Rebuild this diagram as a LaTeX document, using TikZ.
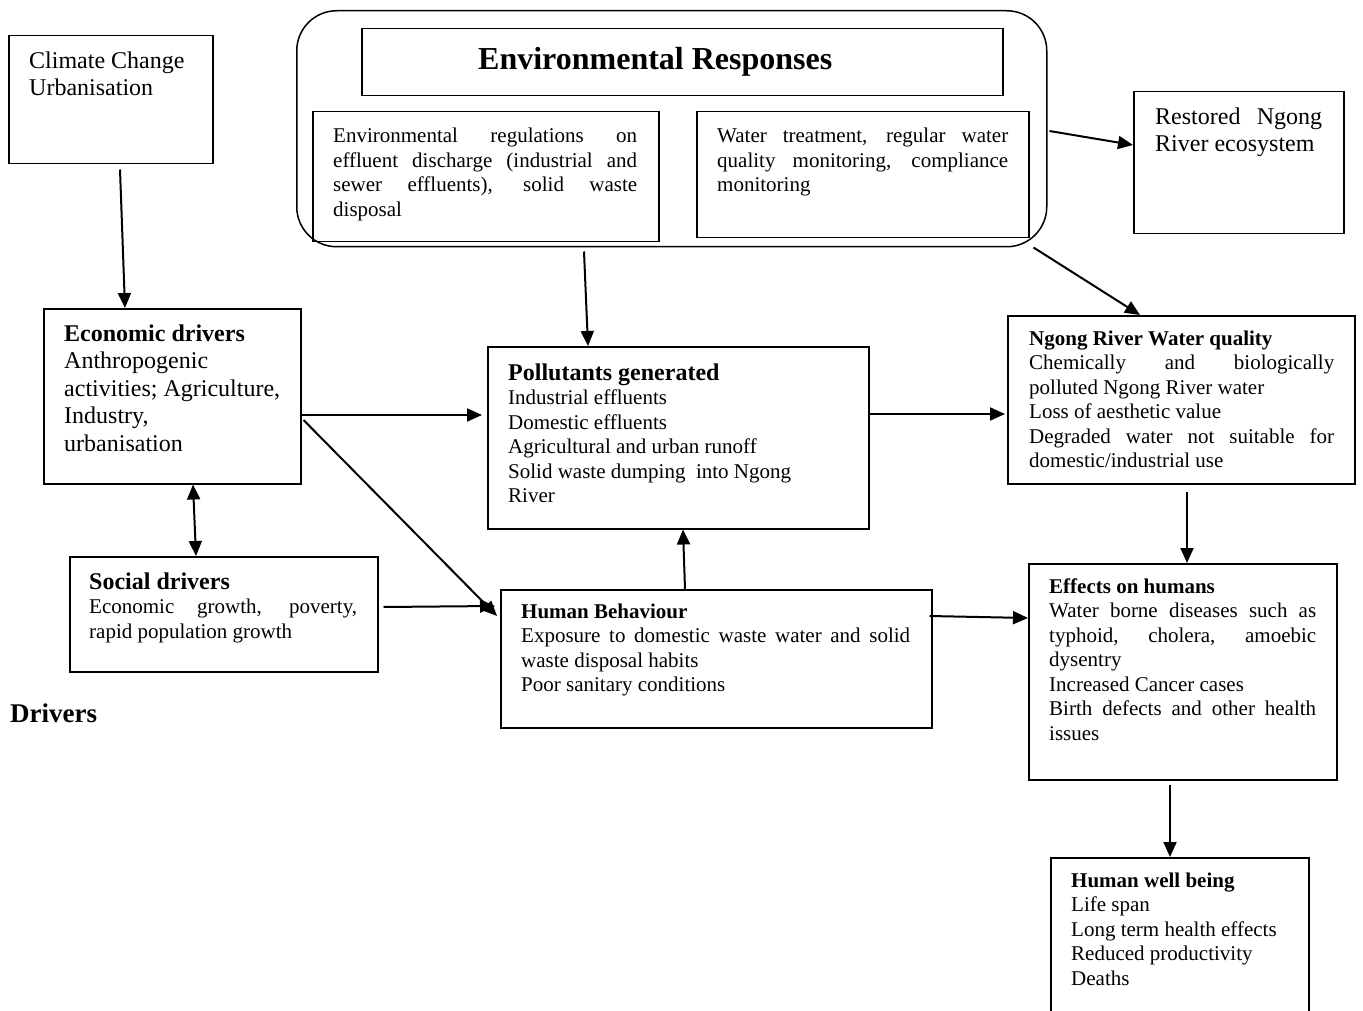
\documentclass[tikz,border=0pt]{standalone}
\usepackage{fontspec}
\setmainfont{Liberation Serif}
\usetikzlibrary{arrows.meta,calc}
\hyphenpenalty=10000

\tikzset{
  box/.style={draw, line width=1.5pt, inner sep=0pt, anchor=north west},
  txt/.style={inner sep=0pt, anchor=base west, align=justify, font=\fontsize{21}{24.5}\selectfont},
  bigtxt/.style={inner sep=0pt, anchor=base west, align=justify, font=\fontsize{24}{27}\selectfont},
  arr/.style={line width=2pt, ->},
}
\newcommand{\hd}[1]{{\fontsize{24}{24.5}\selectfont\bfseries #1}}

\begin{document}
\begin{tikzpicture}[x=1pt, y=-1pt, >={Triangle[length=15pt,width=13pt]}]
    \useasboundingbox (0,0) rectangle (1363,1011);

    % boxes
    \node[box, minimum width=204, minimum height=128] (clim) at (8,35) {};
    \node[box, rounded corners=40pt, minimum width=750, minimum height=236] (resp) at (296,10) {};
    \node[box, minimum width=641, minimum height=67] (title) at (361,28) {};
    \node[box, minimum width=346, minimum height=130] (reg) at (312,111) {};
    \node[box, minimum width=332, minimum height=126] (treat) at (696,111) {};
    \node[box, minimum width=210, minimum height=142] (rest) at (1133,91) {};
    \node[box, minimum width=257, minimum height=175] (econ) at (43,308) {};
    \node[box, minimum width=381, minimum height=182] (poll) at (487,346) {};
    \node[box, minimum width=347, minimum height=168] (qual) at (1007,315) {};
    \node[box, minimum width=308, minimum height=115] (soc) at (69,556) {};
    \node[box, minimum width=431, minimum height=138] (hb) at (500,589) {};
    \node[box, minimum width=308, minimum height=216] (eff) at (1028,563) {};
    \node[box, minimum width=258, minimum height=200] (well) at (1050,857) {};

    % texts
    \node[bigtxt, font=\fontsize{24}{26.5}\selectfont, text width=180] (climT) at (29,69)
        {Climate Change\\ Urbanisation};
    \node[txt, font=\fontsize{32}{36}\selectfont\bfseries] (titleT) at (478,70) {Environmental Responses};
    \node[txt, text width=304] (regT) at (333,143)
        {Environmental regulations on\linebreak effluent discharge (industrial and\linebreak
         sewer effluents), solid waste\linebreak disposal};
    \node[txt, text width=291] (treatT) at (717,143)
        {Water treatment, regular water\linebreak quality monitoring, compliance\linebreak monitoring};
    \node[bigtxt, text width=167] (restT) at (1155,125) {Restored Ngong\linebreak River ecosystem};
    \node[bigtxt, font=\fontsize{24}{27.5}\selectfont, text width=232] (econT) at (64,341)
        {\textbf{Economic drivers}\\ Anthropogenic\\ activities; Agriculture,\\ Industry,\\ urbanisation};
    \node[txt, text width=268] (socT) at (89,589)
        {\hd{Social drivers}\\ Economic growth, poverty,\linebreak rapid population growth};
    \node[txt, text width=340] (pollT) at (508,380)
        {\hd{Pollutants generated}\\ Industrial effluents\\ Domestic effluents\\
         Agricultural and urban runoff\\ Solid waste dumping\ \ into Ngong\\ River};
    \node[txt, text width=305] (qualT) at (1029,345)
        {\textbf{Ngong River Water quality}\\ Chemically and biologically\linebreak
         polluted Ngong River water\\ Loss of aesthetic value\\
         Degraded water not suitable for\linebreak domestic/industrial use};
    \node[txt, text width=389] (hbT) at (521,618)
        {\textbf{Human Behaviour}\\ Exposure to domestic waste water and solid\linebreak
         waste disposal habits\\ Poor sanitary conditions};
    \node[txt, text width=267] (effT) at (1049,593)
        {\textbf{Effects on humans}\\ Water borne diseases such as\linebreak typhoid, cholera, amoebic\linebreak
         dysentry\\ Increased Cancer cases\\ Birth defects and other health\linebreak issues};
    \node[txt, text width=240] (wellT) at (1071,887)
        {\textbf{Human well being}\\ Life span\\ Long term health effects\\ Reduced productivity\\ Deaths};
    \node[txt, font=\fontsize{27}{30}\selectfont\bfseries] (drv) at (10,722) {Drivers};

    % arrows
    \draw[arr] ($(clim.south west)+(112,5)$) -- ($(econ.north west)+(82,0)$);
    \draw[arr, <->] ($(econ.south west)+(150,0)$) -- ($(soc.north west)+(127,0)$);
    \draw[arr] ($(econ.north east)+(0,107)$) -- ($(poll.north west)+(-5,69)$);
    \draw[arr] ($(econ.north east)+(2,112)$) -- ($(hb.north west)+(-3,27)$);
    \draw[arr] ($(soc.north east)+(5,51)$) -- ($(hb.north west)+(-5,17)$);
    \draw[arr] ($(reg.south west)+(272,9)$) -- ($(poll.north west)+(101,0)$);
    \draw[arr] ($(hb.north west)+(185,0)$) -- ($(poll.south west)+(196,0)$);
    \draw[arr] ($(poll.north east)+(0,68)$) -- ($(qual.north west)+(-2,99)$);
    \draw[arr] ($(resp.south east)+(-14,0)$) -- ($(qual.north west)+(133,0)$);
    \draw[arr] ($(resp.north east)+(2,121)$) -- ($(rest.north west)+(0,54)$);
    \draw[arr] ($(qual.south west)+(180,7)$) -- ($(eff.north west)+(159,0)$);
    \draw[arr] ($(hb.north east)+(-3,27)$) -- ($(eff.north west)+(0,55)$);
    \draw[arr] ($(eff.south west)+(142,4)$) -- ($(well.north west)+(120,0)$);
\end{tikzpicture}
\end{document}
